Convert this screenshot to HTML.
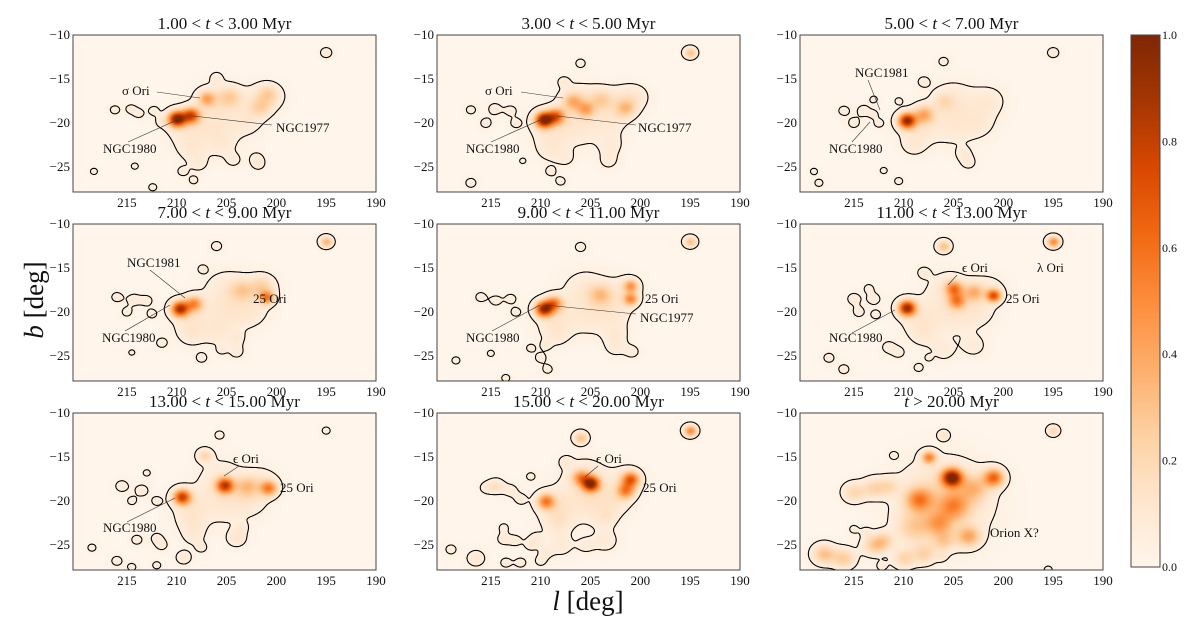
<!DOCTYPE html>
<html><head><meta charset="utf-8">
<style>
body{margin:0;background:#fff;width:1200px;height:619px;overflow:hidden;position:relative;font-family:"Liberation Serif",serif}
canvas,svg{position:absolute;left:0;top:0}
text{font-family:"Liberation Serif",serif;fill:#111}
</style></head><body>
<canvas id="cv" width="1200" height="619"></canvas>
<svg id="sv" width="1200" height="619"></svg>
<script>
// ---- data: Gaussian density components [l, b, amplitude, sigma] per age bin ----
const titles = ["1.00 < t < 3.00 Myr","3.00 < t < 5.00 Myr","5.00 < t < 7.00 Myr","7.00 < t < 9.00 Myr","9.00 < t < 11.00 Myr","11.00 < t < 13.00 Myr","13.00 < t < 15.00 Myr","15.00 < t < 20.00 Myr","t > 20.00 Myr"];
const xTicks = [215,210,205,200,195,190];
const yTicks = [-10,-15,-20,-25];
const cbTicks = [0.0,0.2,0.4,0.6,0.8,1.0];
const I=0.075, s=0.45;
const blobs1 = [[210,-19.5,1.0,0.6],[208.6,-19.1,0.7,0.6],[207,-17.2,0.35,0.6],[204.7,-17,0.2,0.8],[200.9,-16.6,0.15,0.7],[201.6,-18.2,0.15,0.7],
 [206,-17.5,0.1,1.5],[202,-17.5,0.09,1.3],[200.5,-17,0.08,1.0],[209,-20.5,0.1,1.5],[206,-20.5,0.09,1.5],[203,-19.8,0.08,1.2],[208.5,-23,0.08,1.0],[205.5,-22.5,0.07,1.0],
 [206,-14.8,I,s],[216.2,-18.5,I,s],[214.6,-18.4,I,s],[213.8,-18.9,I,s],[212.3,-18.6,I,s],[211.5,-19.8,I,s],[207.8,-24.6,0.07,0.7],[204.3,-24.2,0.07,0.6],[202,-24,0.07,0.6],[201.8,-24.7,0.07,0.5],[195,-12,0.1,0.45],[218.3,-25.5,I,0.35],[214.2,-24.9,I,0.35],[209.4,-25.5,I,s],[208.3,-26.5,I,0.4],[212.4,-27.3,I,0.4]];
const blobs2 = [[209.7,-19.6,1.0,0.6],[208.5,-19.2,0.6,0.6],[206.8,-17.5,0.3,0.7],[205.5,-18.4,0.3,0.6],[201.5,-18.3,0.25,0.7],[204,-17.3,0.2,0.8],
 [206,-17.5,0.1,1.5],[202,-17.5,0.09,1.3],[200.5,-17,0.08,1.0],[209,-20.5,0.1,1.5],[206,-20.5,0.09,1.5],[203,-19.8,0.08,1.2],[209,-23,0.08,1.0],[203,-22.5,0.08,0.9],[203.2,-24.3,0.07,0.7],[207.5,-24,0.06,0.7],
 [214.6,-18.4,I,0.6],[213,-18.6,I,0.5],[217,-18.5,I,s],[215.5,-20,I,0.5],[212.5,-20,I,s],[206,-13.2,I,s],[207.7,-15.3,I,s],[195,-12,0.3,0.45],[217,-26.8,I,0.5],[209,-25.5,I,s],[208,-26.6,I,s],[211.8,-24.3,I,0.3]];
const blobs3 = [[209.7,-19.7,0.9,0.6],[208,-19,0.35,0.7],[206,-17.5,0.12,0.7],
 [205,-17.5,0.1,1.6],[201.5,-17.5,0.09,1.2],[208.5,-20.5,0.1,1.4],[205,-20.5,0.08,1.5],[202.5,-20,0.08,1.2],[209,-22.5,0.07,0.9],
 [206,-13,I,s],[208,-15.3,I,0.5],[210.5,-17.5,I,0.35],[213,-17.3,I,0.35],[216,-18.6,I,0.5],[214,-18.6,I,0.6],[215,-20,I,0.5],[212.5,-20,I,s],[213,-19,I,0.35],[204,-23.5,I,0.6],[203.5,-24.5,I,0.6],[219,-25.5,I,0.35],[218.5,-26.8,I,0.4],[212,-25.4,I,0.35],[210.5,-26.6,I,0.4],[195,-12,0.1,0.45]];
const blobs4 = [[209.7,-19.6,0.85,0.6],[208.3,-19,0.45,0.6],[201,-18.3,0.5,0.5],[203.5,-17.5,0.2,0.8],[201.5,-17,0.15,0.8],
 [205,-17.5,0.1,1.6],[201.5,-17.5,0.09,1.2],[208.5,-20.5,0.1,1.4],[205,-20.5,0.09,1.5],[202.5,-20,0.08,1.2],[208.5,-22.5,0.08,1.0],[206,-22.5,0.07,0.9],
 [216,-18.3,I,0.5],[214.3,-18.6,I,0.6],[213,-18.7,I,0.5],[215,-20,I,s],[212.5,-20.2,I,s],[206,-12.5,I,0.5],[207.4,-15.1,I,0.4],[204,-23,I,0.6],[204,-24.5,I,0.6],[211.5,-23.5,I,0.5],[214.5,-24.6,I,0.3],[207.5,-25.2,I,0.5],[205.5,-24.3,I,0.4],[195,-12,0.35,0.45]];
const blobs5 = [[209.7,-19.6,0.9,0.6],[208.7,-19,0.5,0.6],[201,-17,0.4,0.5],[201,-18.5,0.45,0.5],[204,-18,0.25,0.8],
 [205.5,-17.5,0.1,1.6],[201.5,-17.5,0.09,1.2],[208.5,-20.5,0.1,1.4],[205,-20.5,0.09,1.5],[202.5,-20,0.08,1.2],[208.5,-22.5,0.08,1.0],[202.5,-22.5,0.08,0.9],[202.5,-24,0.07,0.8],[200.8,-24.5,0.07,0.6],
 [216,-18.3,I,0.5],[214.5,-18.7,I,0.5],[213,-18.5,I,0.5],[212.5,-20,I,s],[206,-12.6,I,0.5],[195,-12,0.3,0.45],[218.5,-25.5,I,0.4],[215,-24.7,I,0.35],[211,-24.1,I,0.4],[209.5,-23.8,I,0.4],[210,-25.2,I,0.5],[209.3,-26.5,I,0.45],[213.5,-27.5,I,0.4]];
const blobs6 = [[209.7,-19.5,0.9,0.6],[205,-17.3,0.5,0.6],[204.7,-18.7,0.45,0.6],[201,-18.1,0.65,0.5],[203,-17.7,0.3,0.7],
 [205.5,-17.5,0.1,1.6],[201.5,-17.5,0.09,1.2],[208.5,-20.5,0.1,1.4],[205,-20.5,0.09,1.5],[202.5,-20,0.08,1.2],[208,-22.5,0.08,1.0],[206,-24.3,0.08,0.9],[203,-23.8,0.08,0.9],
 [206,-12.5,0.3,0.5],[195,-12,0.5,0.45],[208,-15.5,I,0.5],[213.5,-17.3,I,0.4],[215,-18.5,I,0.6],[213,-18.5,I,0.6],[214.5,-20,I,0.5],[212.8,-20.3,I,0.45],[211.5,-24,I,0.6],[210.5,-24.6,I,0.5],[217.5,-25.2,I,0.5],[216,-26.5,I,0.5],[208.5,-26.3,I,0.45],[207.5,-25.2,I,0.3]];
const blobs7 = [[209.5,-19.5,0.75,0.6],[205.2,-18.2,0.75,0.6],[200.8,-18.5,0.5,0.6],[203,-18.3,0.25,0.8],
 [205.5,-17.5,0.1,1.6],[201.5,-17.8,0.09,1.2],[208.5,-20.5,0.1,1.4],[205,-20.5,0.09,1.5],[202.5,-20,0.08,1.2],[208.5,-22.5,0.08,1.0],[208.3,-24,0.07,0.8],
 [215.5,-18.3,I,0.6],[213.5,-18.8,I,0.6],[214.5,-20,I,0.4],[212,-20,I,0.45],[213,-16.8,I,0.35],[207.2,-14.8,0.2,0.55],[205.7,-12.5,I,0.45],[195,-12,I,0.4],[214,-24.4,I,0.5],[212,-24.2,I,0.5],[211.5,-25,I,0.5],[209.3,-26.4,0.1,0.6],[207.5,-25.3,I,0.45],[204,-24.2,0.12,0.7],[203.5,-23,I,0.5],[218.5,-25.3,I,0.4],[216,-26.8,I,0.5],[214.5,-27.5,I,0.4],[212,-27.3,I,0.4]];
const blobs8 = [[205,-18,0.9,0.6],[201,-17.5,0.6,0.6],[201.5,-18.8,0.45,0.6],[209.5,-20,0.5,0.6],[206,-17.3,0.4,0.6],
 [205.5,-17.5,0.12,1.6],[201.5,-17.8,0.1,1.2],[208.5,-20.5,0.12,1.4],[205,-20.5,0.1,1.5],[202.5,-20,0.09,1.2],[208.3,-22.5,0.1,1.0],[208,-25,0.09,0.9],[203.5,-22,0.08,0.8],[203.5,-24.5,0.09,0.9],[205.5,-25,0.07,0.7],
 [214.5,-18.3,0.15,0.6],[213,-18.8,I,0.6],[215.5,-18.5,I,0.5],[212,-19.8,I,0.5],[211,-17.2,I,0.4],[206,-12.8,0.3,0.5],[207.5,-15.5,I,0.5],[195,-12,0.5,0.45],[219,-25.5,I,0.5],[216.5,-26.5,0.1,0.7],[213.5,-27,I,0.5],[212,-27,I,0.5],[210.5,-24.3,I,0.6],[209.5,-25.8,I,0.5],[211,-25,I,0.5],[212.5,-24.5,I,0.5],[213.7,-23,I,0.4],[213.7,-24.3,I,0.6],[210,-26.8,I,0.5]];
const blobs9 = [[205.2,-17.3,1.0,0.7],[201,-17.3,0.6,0.7],[207.5,-15,0.5,0.5],[208.5,-19.8,0.45,0.9],[205,-20.5,0.35,1.0],[206.5,-22.5,0.3,0.9],[203.5,-24,0.35,0.8],[206,-20,0.22,3.0],[209,-23,0.2,1.2],[213,-18.5,0.2,0.8],[215,-19,0.2,0.8],[211.5,-18.3,0.15,0.7],[218,-26,0.3,0.8],[216,-26.5,0.25,0.8],[213,-25,0.25,0.8],[212,-24.5,0.2,0.7],[210,-26.5,0.2,0.8],[208,-26,0.2,0.8],[206,-24.5,0.2,0.8],[203,-18.5,0.25,1.0],
 [206,-12.5,0.12,0.45],[195,-12,0.2,0.45],[215,-23.2,I,0.4],[213.8,-23.5,I,0.4],[211,-14.8,I,0.35],[206.2,-26.3,I,0.4],[212.2,-27.4,I,0.45],[195.5,-27.8,I,0.4]];
const panelBlobs=[blobs1,blobs2,blobs3,blobs4,blobs5,blobs6,blobs7,blobs8,blobs9];
const LEVEL=0.045;

// ---- layout ----
const colX=[73,437,800], rowY=[35,224,413], PW=303, PH=157;
const L0=220.4, L1=190, B0=-10, B1=-27.84;
const NS="http://www.w3.org/2000/svg";
const sv=document.getElementById('sv');
const cx=document.getElementById('cv').getContext('2d');
function xOf(p,l){return colX[p%3]+(L0-l)/(L0-L1)*PW;}
function yOf(p,b){return rowY[Math.floor(p/3)]+(B0-b)/(B0-B1)*PH;}
function lOf(px){return L0-px/PW*(L0-L1);}
function bOf(py){return B0-py/PH*(B0-B1);}
const stops=[[255,245,235],[254,230,206],[253,208,162],[253,174,107],[253,141,60],[241,105,19],[217,72,1],[166,54,3],[127,39,4]];
function cmap(v){v=Math.max(0,Math.min(1,v))*8;const i=Math.min(7,Math.floor(v)),f=v-i;const a=stops[i],b=stops[i+1];return [a[0]+(b[0]-a[0])*f,a[1]+(b[1]-a[1])*f,a[2]+(b[2]-a[2])*f];}
function el(tag,attrs,txt){const e=document.createElementNS(NS,tag);for(const k in attrs)e.setAttribute(k,attrs[k]);if(txt!==undefined)e.textContent=txt;sv.appendChild(e);return e;}

for(let p=0;p<9;p++){
  const bl=panelBlobs[p], ox=colX[p%3], oy=rowY[Math.floor(p/3)];
  const W=PW+1,H=PH+1, F=new Float32Array(W*H);
  for(let j=0;j<H;j++){const b=bOf(j);for(let i=0;i<W;i++){const l=lOf(i);let v=0;
    for(const g of bl){const dl=l-g[0],db=b-g[1];v+=g[2]*Math.exp(-(dl*dl+db*db)/(2*g[3]*g[3]));}
    F[j*W+i]=v;}}
  const img=cx.createImageData(PW,PH);
  for(let j=0;j<PH;j++)for(let i=0;i<PW;i++){const c=cmap(F[j*W+i]);const k=(j*PW+i)*4;img.data[k]=c[0];img.data[k+1]=c[1];img.data[k+2]=c[2];img.data[k+3]=255;}
  cx.putImageData(img,ox,oy);
  let d='';
  const it=(a,b)=>(LEVEL-a)/(b-a);
  for(let j=0;j<H-1;j++)for(let i=0;i<W-1;i++){
    const a=F[j*W+i],b=F[j*W+i+1],c=F[(j+1)*W+i+1],e=F[(j+1)*W+i];
    const pts=[];
    if((a>LEVEL)!=(b>LEVEL))pts.push([i+it(a,b),j]);
    if((b>LEVEL)!=(c>LEVEL))pts.push([i+1,j+it(b,c)]);
    if((e>LEVEL)!=(c>LEVEL))pts.push([i+it(e,c),j+1]);
    if((a>LEVEL)!=(e>LEVEL))pts.push([i,j+it(a,e)]);
    for(let k=0;k+1<pts.length;k+=2)d+='M'+(ox+pts[k][0]).toFixed(1)+' '+(oy+pts[k][1]).toFixed(1)+'L'+(ox+pts[k+1][0]).toFixed(1)+' '+(oy+pts[k+1][1]).toFixed(1);
  }
  const cp=el('path',{d:d,fill:'none',stroke:'#000','stroke-width':1.1});
  
  
  const fr=el('rect',{x:ox,y:oy,width:PW,height:PH,fill:'none',stroke:'#444','stroke-width':1});
  
  
  const t=titles[p];
  const tt=el('text',{x:ox+PW/2,y:oy-6,'text-anchor':'middle','font-size':17});
  
  
  const parts=t.split('t');
  tt.appendChild(document.createTextNode(parts[0]));
  const ts=document.createElementNS(NS,'tspan');ts.setAttribute('font-style','italic');ts.textContent='t';tt.appendChild(ts);
  tt.appendChild(document.createTextNode(parts[1]));
  for(const v of xTicks){const x=xOf(p,v);
    const lab=el('text',{x:x,y:oy+PH+15,'text-anchor':'middle','font-size':13},String(v));
    
    }
  for(const v of yTicks){const y=yOf(p,v);
    const lab=el('text',{x:ox-3,y:y+4,'text-anchor':'end','font-size':13},'\u2212'+Math.abs(v));
    
    }
}

// annotations [text, x, y, lineX1, lineY1, lineX2, lineY2]
const notes=[["σ Ori",122,95,157,92,200,98],["NGC1977",276,132,193,116,272,125],["NGC1980",103,153,128,142,177,120],
["σ Ori",485,95,521,92,563,98],["NGC1977",638,132,557,116,636,125],["NGC1980",466,153,491,142,540,120],
["NGC1981",855,77,868,80,880,110],["NGC1980",829,153,852,142,870,122],
["NGC1981",127,267,150,270,185,298],["25 Ori",253,303,0,0,0,0],["NGC1980",102,342,125,331,170,305],
["25 Ori",645,303,0,0,0,0],["NGC1977",640,322,545,305,636,314],["NGC1980",466,342,492,331,540,305],
["ϵ Ori",962,272,957,275,948,285],["λ Ori",1037,272,0,0,0,0],["25 Ori",1006,303,0,0,0,0],["NGC1980",829,342,852,333,895,310],
["ϵ Ori",233,463,239,466,224,476],["25 Ori",280,492,0,0,0,0],["NGC1980",103,532,127,522,175,498],
["ϵ Ori",596,463,598,466,585,477],["25 Ori",643,492,0,0,0,0],
["Orion X?",990,537,0,0,0,0]];
for(const n of notes){
  if(n[3]){const ln=el('line',{x1:n[3],y1:n[4],x2:n[5],y2:n[6],stroke:'#333','stroke-width':0.6});
    
    }
  const tx=el('text',{x:n[1],y:n[2],'font-size':13},n[0]);
  
  
}

// colorbar
const cbX=1131,cbY=35,cbW=29,cbH=532;
for(let j=0;j<cbH;j++){const c=cmap(1-j/(cbH-1));cx.fillStyle='rgb('+c.map(Math.round).join(',')+')';cx.fillRect(cbX,cbY+j,cbW,1);}
const cbf=el('rect',{x:cbX,y:cbY,width:cbW,height:cbH,fill:'none',stroke:'#444'});


for(const v of cbTicks){const y=cbY+cbH-v*cbH;
  const lab=el('text',{x:cbX+cbW+2,y:y+4,'font-size':12},v.toFixed(1));
  
  }

// axis titles
const yl=el('text',{x:0,y:0,'font-size':27,transform:'translate(43,300) rotate(-90)','text-anchor':'middle'});


yl.innerHTML='<tspan font-style="italic">b</tspan> [deg]';
const xl=el('text',{x:588,y:610,'font-size':27,'text-anchor':'middle'});


xl.innerHTML='<tspan font-style="italic">l</tspan> [deg]';
</script>
</body></html>
